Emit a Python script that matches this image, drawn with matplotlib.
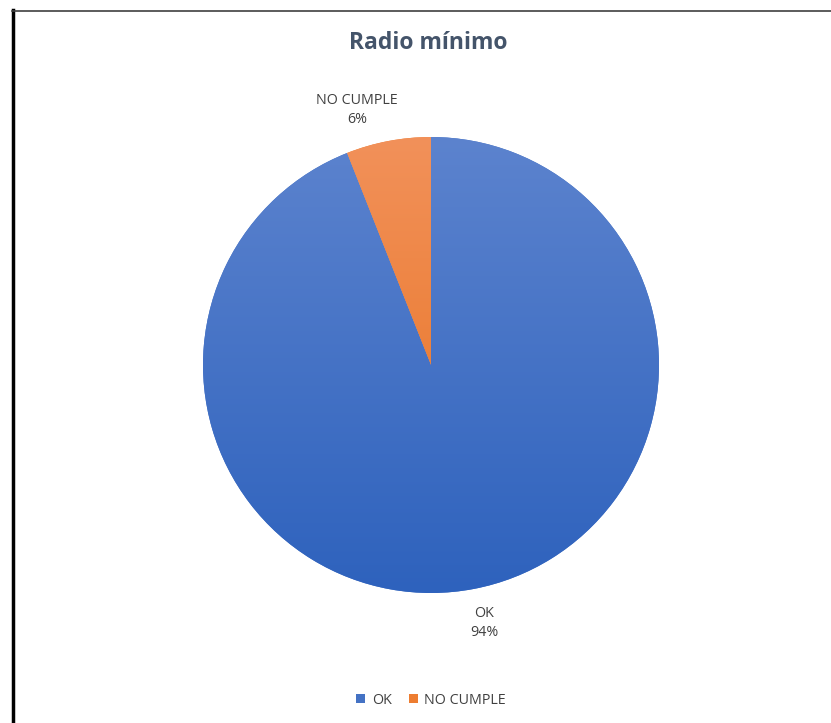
import matplotlib.pyplot as plt
import numpy as np
from matplotlib.colors import LinearSegmentedColormap
from matplotlib.lines import Line2D
from matplotlib.patches import Patch

# data
categories = ["OK", "NO CUMPLE"]
values = [94, 6]
top_colors = ["#5C83CE", "#F2915A"]
bottom_colors = ["#2E62BD", "#E66F1A"]
legend_colors = ["#4472C4", "#ED7D31"]

W, H = 831, 723
fig = plt.figure(figsize=(W / 100, H / 100), dpi=100)
fig.patch.set_facecolor("white")

# pie axes: centre (431,365), radius 228 px
cx, cy, r = 431, 365, 228
ax = fig.add_axes([(cx - r) / W, 1 - (cy + r) / H, 2 * r / W, 2 * r / H])
wedges, _ = ax.pie(values, startangle=90, counterclock=False, radius=1,
                   colors=legend_colors, wedgeprops=dict(linewidth=0))
ax.set_xlim(-1, 1)
ax.set_ylim(-1, 1)
ax.set_aspect("equal")
ax.axis("off")

# vertical gradient fill per wedge
grad = np.linspace(0, 1, 256).reshape(-1, 1)
for w, c0, c1 in zip(wedges, top_colors, bottom_colors):
    cmap = LinearSegmentedColormap.from_list("g", [c1, c0])
    im = ax.imshow(grad, extent=[-1, 1, -1, 1], origin="lower", cmap=cmap,
                   aspect="auto", zorder=w.get_zorder() + 0.1)
    im.set_clip_path(w)

# data labels
lab_col = "#404040"
ax.text((357 - cx) / r, (cy - 110) / r, "NO CUMPLE\n6%", ha="center", va="center",
        fontsize=10.3, color=lab_col, family="Open Sans", linespacing=1.45)
ax.text((484 - cx) / r, (cy - 623) / r, "OK\n94%", ha="center", va="center",
        fontsize=10.3, color=lab_col, family="Open Sans", linespacing=1.45)

fig.text(428 / W, 1 - 43 / H, "Radio mínimo", ha="center", va="center",
         fontsize=16.5, fontweight="bold", color="#44546A", family="Open Sans")

handles = [Patch(facecolor=c, edgecolor="none") for c in legend_colors]
fig.legend(handles, categories, loc="center", bbox_to_anchor=(431 / W, 1 - 700 / H),
           ncol=2, frameon=False, handlelength=0.65, handleheight=0.65,
           handletextpad=0.45, columnspacing=1.2,
           prop=dict(family="Open Sans", size=10.3), labelcolor=lab_col)

# frame lines
fig.add_artist(Line2D([13 / W, 13 / W], [0, 1 - 10 / H], color="black", linewidth=2.5))
fig.add_artist(Line2D([12 / W, 1], [1 - 11 / H, 1 - 11 / H], color="#404040", linewidth=1.2))

fig.savefig("out.png", dpi=100)
